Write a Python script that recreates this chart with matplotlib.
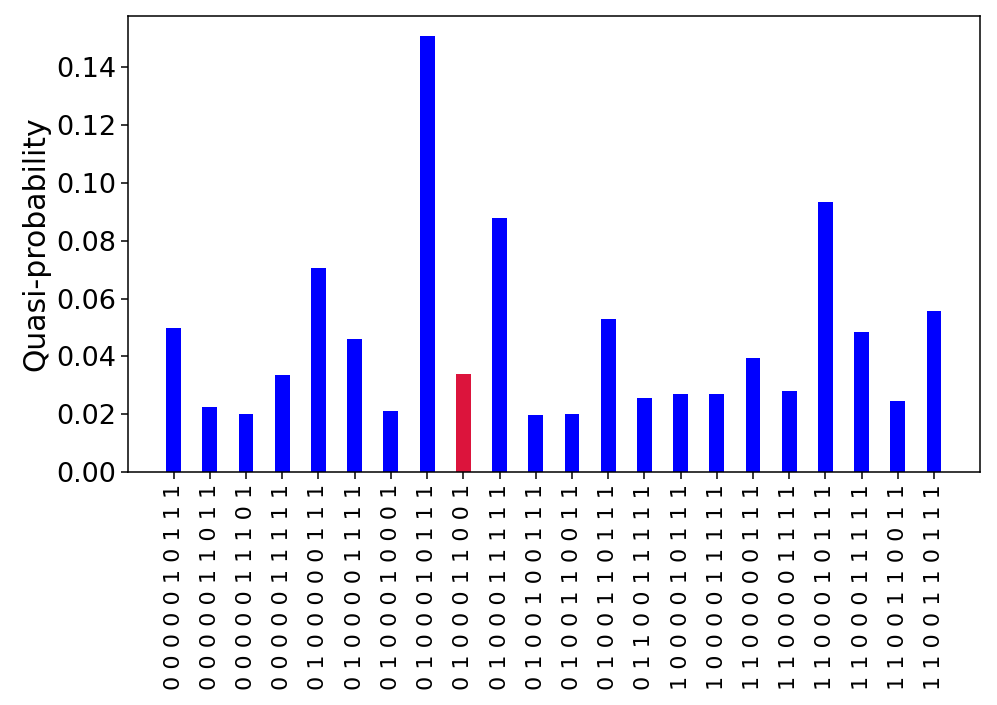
import numpy as np
import matplotlib
matplotlib.use('Agg')
import matplotlib.pyplot as plt

# bitstrings (left to right) and their quasi-probabilities
states = ['0000010111', '0000011011', '0000011101', '0000011111',
          '0100000111', '0100001111', '0100010001', '0100010111',
          '0100011001', '0100011111', '0100100111', '0100110011',
          '0100110111', '0110011111', '1000010111', '1000011111',
          '1100000111', '1100001111', '1100010111', '1100011111',
          '1100110011', '1100110111']
quasi = [0.0497, 0.0226, 0.0201, 0.0337, 0.0705, 0.0459, 0.0212, 0.1508,
         0.0340, 0.0879, 0.0198, 0.0201, 0.0528, 0.0257, 0.0271, 0.0271,
         0.0393, 0.0281, 0.0934, 0.0486, 0.0247, 0.0556]
highlight = '0100011001'

x = np.arange(len(states))
colors = ['crimson' if s == highlight else 'blue' for s in states]
labels = [' '.join(s) for s in states]

fig = plt.figure(figsize=(9.97, 7.05), dpi=100)
ax = fig.add_axes([0.1284, 0.3305, 0.8546, 0.6468])

ax.bar(x, quasi, width=0.41, color=colors)

ax.set_xticks(x)
ax.set_xticklabels(labels, rotation=90, fontsize=16)
ax.set_xlim(-1.26, len(states) - 1 + 1.27)
ax.set_ylim(0, 0.1578)
ax.set_yticks(np.arange(0, 0.15, 0.02))
ax.yaxis.set_major_formatter(matplotlib.ticker.FormatStrFormatter('%.2f'))
ax.tick_params(axis='y', labelsize=19.5, length=5, width=1.1)
ax.tick_params(axis='x', length=5, width=1.1)
for sp in ax.spines.values():
    sp.set_linewidth(1.1)
ax.set_ylabel('Quasi-probability', fontsize=21.5)

plt.savefig('out.png', dpi=100)
